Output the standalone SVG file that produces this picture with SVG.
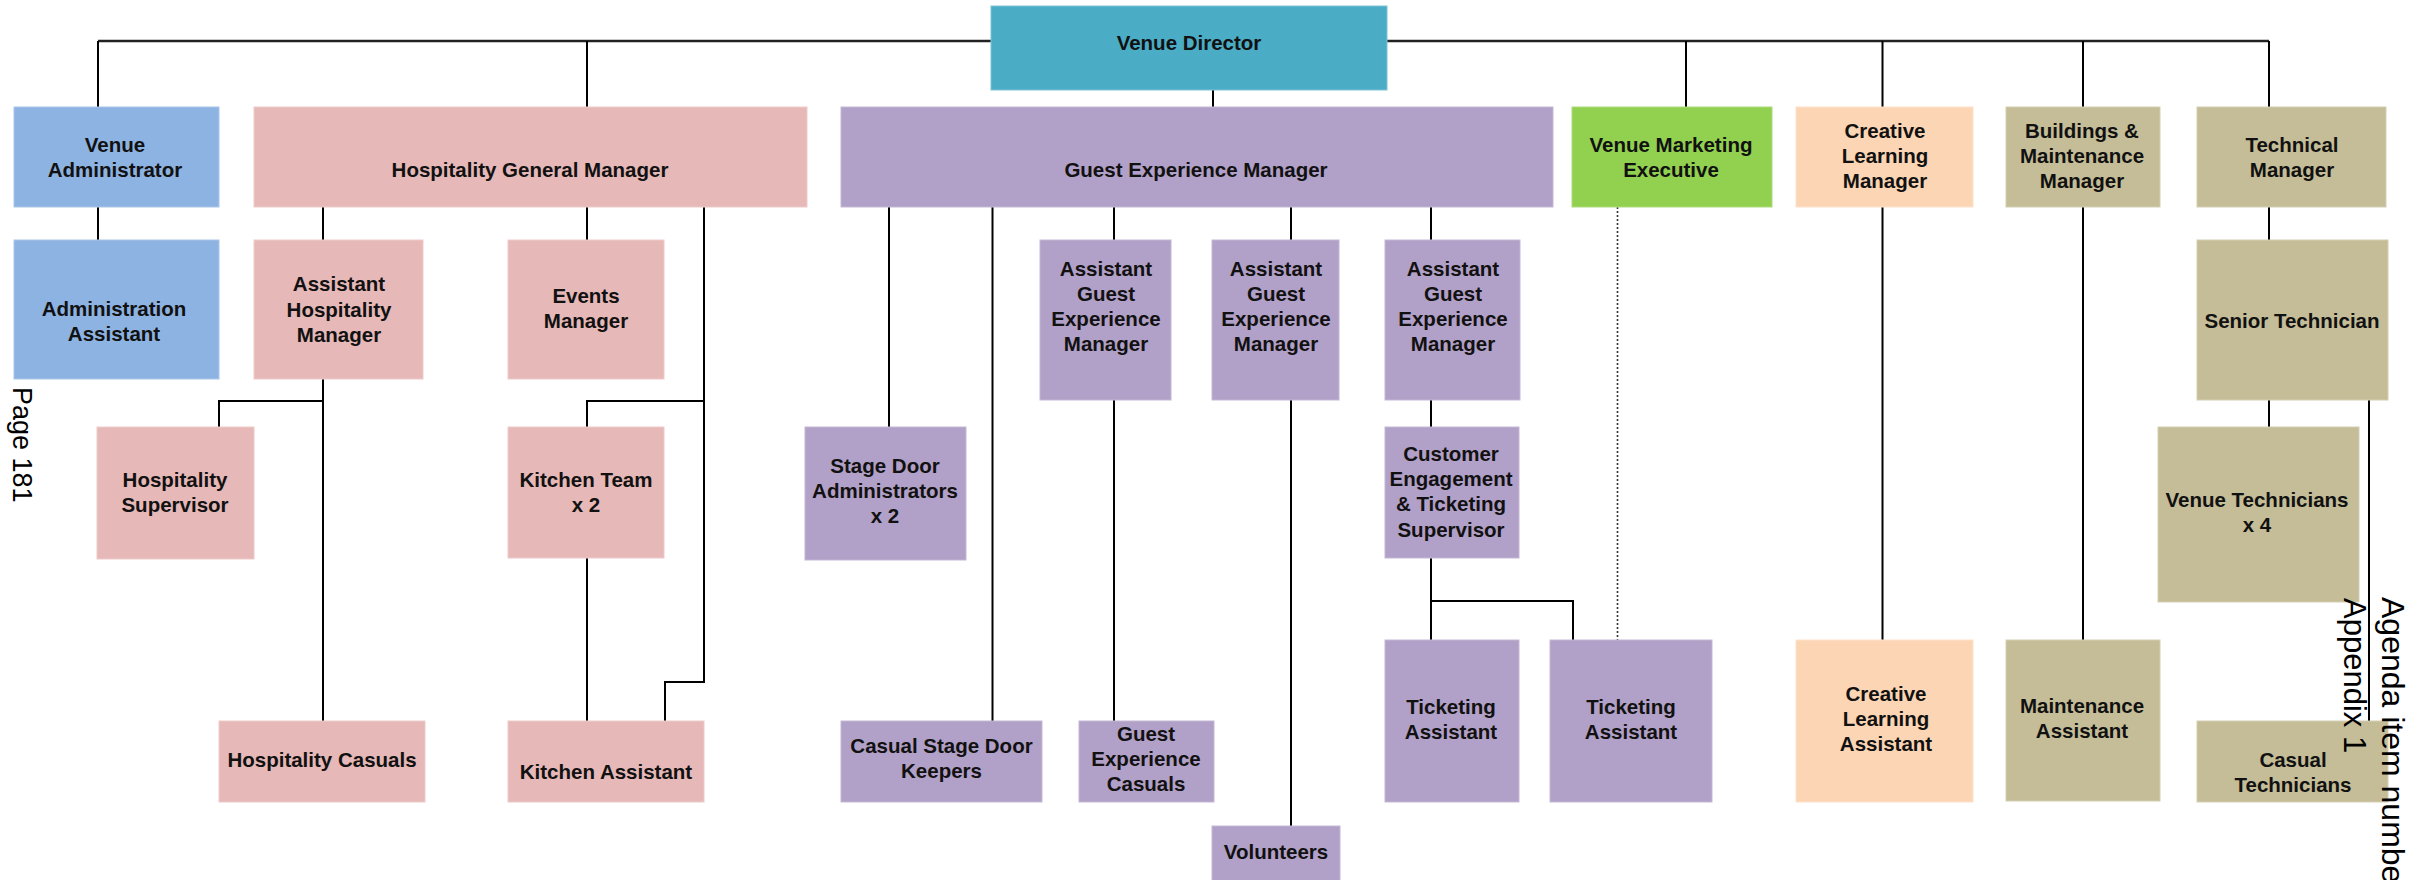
<svg xmlns="http://www.w3.org/2000/svg" width="2417" height="880" viewBox="0 0 2417 880">
  <style>
    .box { stroke-width: 1; }
    .dir { fill: #4BACC6; stroke: #7FC3D6; }
    .adm { fill: #8DB3E2; stroke: #A9C6EA; }
    .hos { fill: #E6B8B7; stroke: #EDCBCA; }
    .gst { fill: #B1A0C7; stroke: #C5B8D6; }
    .mkt { fill: #92D050; stroke: #AEDC7E; }
    .lrn { fill: #FCD5B4; stroke: #FDE1CA; }
    .tec { fill: #C4BD97; stroke: #D4CFB3; }
    .lbl { font-family: "Liberation Sans", Arial, sans-serif; font-weight: bold; font-size: 20.5px; fill: #111; text-anchor: middle; }
    .ln { fill: none; stroke: #000; stroke-width: 2; }
    .top { fill: none; stroke: #222; stroke-width: 2.6; }
    .dot { fill: none; stroke: #333; stroke-width: 1.6; stroke-dasharray: 2 2; }
    .side { font-family: "Liberation Sans", Arial, sans-serif; fill: #000; }
  </style>

  <!-- reporting lines -->
  <g id="connectors">
    <path class="top" d="M98,41 H991 M1387,41 H2269"/>
    <path class="ln" d="M98,41 V107 M587,41 V107 M1686,41 V107 M1882.5,41 V107 M2083,41 V107 M2269,41 V107"/>
    <path class="ln" d="M1213,90 V107"/>
    <!-- administration -->
    <path class="ln" d="M98,207 V240"/>
    <!-- hospitality -->
    <path class="ln" d="M323,207 V240 M587,207 V240"/>
    <path class="ln" d="M704,207 V682 H665 V721 M704,401 H587 V427"/>
    <path class="ln" d="M323,379 V721 M323,401 H219 V427"/>
    <path class="ln" d="M587,558 V721"/>
    <!-- guest experience -->
    <path class="ln" d="M889,207 V427 M992.5,207 V721 M1114,207 V240 M1291,207 V240 M1431,207 V240"/>
    <path class="ln" d="M1114,400 V721 M1291,400 V826 M1431,400 V427"/>
    <path class="ln" d="M1431,558 V640 M1431,601 H1573 V640"/>
    <!-- marketing (dotted) -->
    <path class="dot" d="M1617.5,207 V640"/>
    <!-- learning, buildings -->
    <path class="ln" d="M1882.5,207 V640 M2083,207 V640"/>
    <!-- technical -->
    <path class="ln" d="M2269,207 V240 M2269,400 V427 M2369,400 V721"/>
  </g>

  <g id="venue-director">
    <rect class="box dir" x="991" y="6" width="396" height="84"/>
    <text class="lbl" x="1189" y="50">Venue Director</text>
  </g>

  <g id="venue-administrator">
    <rect class="box adm" x="14" y="107" width="205" height="100"/>
    <text class="lbl" x="115" y="151.7">Venue</text>
    <text class="lbl" x="115" y="176.7">Administrator</text>
  </g>

  <g id="hospitality-general-manager">
    <rect class="box hos" x="254" y="107" width="553" height="100"/>
    <text class="lbl" x="530" y="176.7">Hospitality General Manager</text>
  </g>

  <g id="guest-experience-manager">
    <rect class="box gst" x="841" y="107" width="712" height="100"/>
    <text class="lbl" x="1196" y="176.7">Guest Experience Manager</text>
  </g>

  <g id="venue-marketing-executive">
    <rect class="box mkt" x="1572" y="107" width="200" height="100"/>
    <text class="lbl" x="1671" y="151.7">Venue Marketing</text>
    <text class="lbl" x="1671" y="176.7">Executive</text>
  </g>

  <g id="creative-learning-manager">
    <rect class="box lrn" x="1796" y="107" width="177" height="100"/>
    <text class="lbl" x="1885" y="138.3">Creative</text>
    <text class="lbl" x="1885" y="163.3">Learning</text>
    <text class="lbl" x="1885" y="188.3">Manager</text>
  </g>

  <g id="buildings-maintenance-manager">
    <rect class="box tec" x="2006" y="107" width="154" height="100"/>
    <text class="lbl" x="2082" y="138.3">Buildings &amp;</text>
    <text class="lbl" x="2082" y="163.3">Maintenance</text>
    <text class="lbl" x="2082" y="188.3">Manager</text>
  </g>

  <g id="technical-manager">
    <rect class="box tec" x="2197" y="107" width="189" height="100"/>
    <text class="lbl" x="2292" y="151.7">Technical</text>
    <text class="lbl" x="2292" y="176.7">Manager</text>
  </g>

  <g id="administration-assistant">
    <rect class="box adm" x="14" y="240" width="205" height="139"/>
    <text class="lbl" x="114" y="315.7">Administration</text>
    <text class="lbl" x="114" y="340.7">Assistant</text>
  </g>

  <g id="assistant-hospitality-manager">
    <rect class="box hos" x="254" y="240" width="169" height="139"/>
    <text class="lbl" x="339" y="291">Assistant</text>
    <text class="lbl" x="339" y="316.5">Hospitality</text>
    <text class="lbl" x="339" y="342">Manager</text>
  </g>

  <g id="events-manager">
    <rect class="box hos" x="508" y="240" width="156" height="139"/>
    <text class="lbl" x="586" y="303.3">Events</text>
    <text class="lbl" x="586" y="328.3">Manager</text>
  </g>

  <g id="assistant-gem-1">
    <rect class="box gst" x="1040" y="240" width="131" height="160"/>
    <text class="lbl" x="1106" y="275.7">Assistant</text>
    <text class="lbl" x="1106" y="300.7">Guest</text>
    <text class="lbl" x="1106" y="325.7">Experience</text>
    <text class="lbl" x="1106" y="350.7">Manager</text>
  </g>

  <g id="assistant-gem-2">
    <rect class="box gst" x="1212" y="240" width="127" height="160"/>
    <text class="lbl" x="1276" y="275.7">Assistant</text>
    <text class="lbl" x="1276" y="300.7">Guest</text>
    <text class="lbl" x="1276" y="325.7">Experience</text>
    <text class="lbl" x="1276" y="350.7">Manager</text>
  </g>

  <g id="assistant-gem-3">
    <rect class="box gst" x="1385" y="240" width="135" height="160"/>
    <text class="lbl" x="1453" y="275.7">Assistant</text>
    <text class="lbl" x="1453" y="300.7">Guest</text>
    <text class="lbl" x="1453" y="325.7">Experience</text>
    <text class="lbl" x="1453" y="350.7">Manager</text>
  </g>

  <g id="senior-technician">
    <rect class="box tec" x="2197" y="240" width="191" height="160"/>
    <text class="lbl" x="2292" y="328.3">Senior Technician</text>
  </g>

  <g id="hospitality-supervisor">
    <rect class="box hos" x="97" y="427" width="157" height="132"/>
    <text class="lbl" x="175" y="486.7">Hospitality</text>
    <text class="lbl" x="175" y="511.7">Supervisor</text>
  </g>

  <g id="kitchen-team">
    <rect class="box hos" x="508" y="427" width="156" height="131"/>
    <text class="lbl" x="586" y="486.7">Kitchen Team</text>
    <text class="lbl" x="586" y="511.7">x 2</text>
  </g>

  <g id="stage-door-administrators">
    <rect class="box gst" x="805" y="427" width="161" height="133"/>
    <text class="lbl" x="885" y="473.3">Stage Door</text>
    <text class="lbl" x="885" y="498.3">Administrators</text>
    <text class="lbl" x="885" y="523.3">x 2</text>
  </g>

  <g id="customer-engagement-supervisor">
    <rect class="box gst" x="1385" y="427" width="134" height="131"/>
    <text class="lbl" x="1451" y="461">Customer</text>
    <text class="lbl" x="1451" y="486">Engagement</text>
    <text class="lbl" x="1451" y="511">&amp; Ticketing</text>
    <text class="lbl" x="1451" y="536.5">Supervisor</text>
  </g>

  <g id="venue-technicians">
    <rect class="box tec" x="2158" y="427" width="201" height="175"/>
    <text class="lbl" x="2257" y="507.3">Venue Technicians</text>
    <text class="lbl" x="2257" y="532.3">x 4</text>
  </g>

  <g id="ticketing-assistant-1">
    <rect class="box gst" x="1385" y="640" width="134" height="162"/>
    <text class="lbl" x="1451" y="714.3">Ticketing</text>
    <text class="lbl" x="1451" y="739.3">Assistant</text>
  </g>

  <g id="ticketing-assistant-2">
    <rect class="box gst" x="1550" y="640" width="162" height="162"/>
    <text class="lbl" x="1631" y="714.3">Ticketing</text>
    <text class="lbl" x="1631" y="739.3">Assistant</text>
  </g>

  <g id="creative-learning-assistant">
    <rect class="box lrn" x="1796" y="640" width="177" height="162"/>
    <text class="lbl" x="1886" y="701">Creative</text>
    <text class="lbl" x="1886" y="726">Learning</text>
    <text class="lbl" x="1886" y="751">Assistant</text>
  </g>

  <g id="maintenance-assistant">
    <rect class="box tec" x="2006" y="640" width="154" height="161"/>
    <text class="lbl" x="2082" y="713.3">Maintenance</text>
    <text class="lbl" x="2082" y="738.3">Assistant</text>
  </g>

  <g id="hospitality-casuals">
    <rect class="box hos" x="219" y="721" width="206" height="81"/>
    <text class="lbl" x="322" y="766.7">Hospitality Casuals</text>
  </g>

  <g id="kitchen-assistant">
    <rect class="box hos" x="508" y="721" width="196" height="81"/>
    <text class="lbl" x="606" y="779.3">Kitchen Assistant</text>
  </g>

  <g id="casual-stage-door-keepers">
    <rect class="box gst" x="841" y="721" width="201" height="81"/>
    <text class="lbl" x="941.5" y="753.3">Casual Stage Door</text>
    <text class="lbl" x="941.5" y="778.3">Keepers</text>
  </g>

  <g id="guest-experience-casuals">
    <rect class="box gst" x="1079" y="721" width="135" height="81"/>
    <text class="lbl" x="1146" y="740.7">Guest</text>
    <text class="lbl" x="1146" y="765.7">Experience</text>
    <text class="lbl" x="1146" y="790.7">Casuals</text>
  </g>

  <g id="volunteers">
    <rect class="box gst" x="1212" y="826" width="128" height="60"/>
    <text class="lbl" x="1276" y="859.3">Volunteers</text>
  </g>

  <g id="casual-technicians">
    <rect class="box tec" x="2197" y="721" width="191" height="81"/>
    <text class="lbl" x="2293" y="766.7">Casual</text>
    <text class="lbl" x="2293" y="791.7">Technicians</text>
  </g>

  <!-- page margin annotations -->
  <text class="side" font-size="27" transform="translate(13,387) rotate(90)">Page 181</text>
  <text class="side" font-size="32" transform="translate(2382,597) rotate(90)">Agenda item number</text>
  <text class="side" font-size="31" transform="translate(2344,598) rotate(90)">Appendix 1</text>
</svg>
